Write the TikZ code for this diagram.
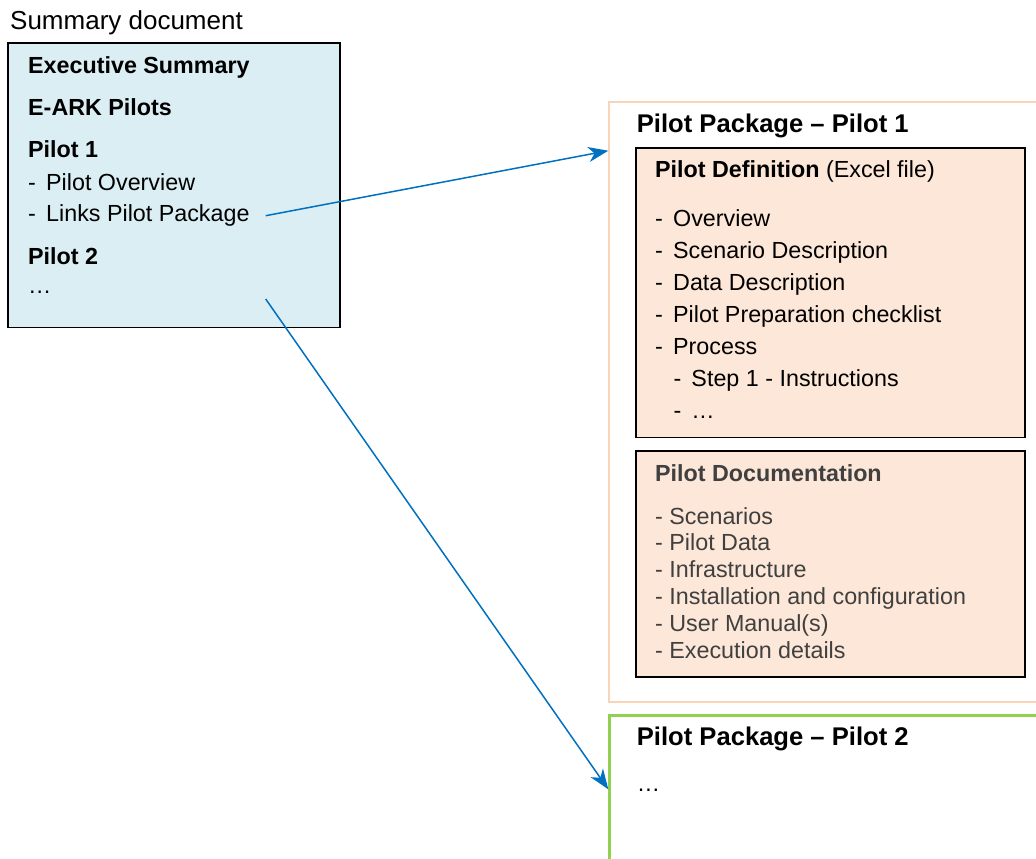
\documentclass[tikz,border=0pt]{standalone}
\usepackage{fontspec}
\setmainfont{Liberation Sans}
\usetikzlibrary{arrows.meta, positioning}
\definecolor{sumblue}{RGB}{218, 238, 243}
\definecolor{pkgorange}{RGB}{250, 212, 182}
\definecolor{defpeach}{RGB}{252, 231, 216}
\definecolor{pkggreen}{RGB}{146, 208, 80}
\definecolor{linkblue}{RGB}{0, 112, 192}
\definecolor{docgray}{RGB}{64, 64, 64}
\newcommand{\dashline}[1]{\makebox[18pt][l]{-}#1}

\tikzset{
  txt/.style={anchor=base west, inner sep=0pt, font=\fontsize{23.3}{28}\selectfont},
  boldtxt/.style={txt, font=\fontsize{23.3}{28}\selectfont\bfseries},
  headtxt/.style={anchor=base west, inner sep=0pt, font=\fontsize{25.6}{30}\selectfont\bfseries},
  box/.style={rectangle, anchor=north west, inner sep=0pt},
  sumbox/.style={box, draw=black, line width=1.5pt, fill=sumblue},
  defbox/.style={box, draw=black, line width=1.5pt, fill=defpeach},
  link/.style={linkblue, line width=1.5pt, -{Stealth[length=20pt, width=15pt, inset=6pt]}},
}

\begin{document}
\begin{tikzpicture}[x=1pt, y=-1pt]
  \useasboundingbox (0, 0) rectangle (1036, 859);

  % Summary document
  \node[txt, font=\fontsize{26}{30}\selectfont] (sumtitle) at (10, 30) {Summary document};
  \node[sumbox, minimum width=331.7, minimum height=284.4] (summary) at (7.3, 42.3) {};
  \node[boldtxt] (exec) at (28, 74) {Executive Summary};
  \node[boldtxt] (eark) at (28, 115) {E-ARK Pilots};
  \node[boldtxt] (pilot1) at (28, 157.3) {Pilot 1};
  \node[txt] (overview) at (28, 190.7) {\dashline{Pilot Overview}};
  \node[txt] (links) at (28, 221.7) {\dashline{Links Pilot Package}};
  \node[boldtxt] (pilot2) at (28, 264.3) {Pilot 2};
  \node[txt] (more) at (28, 293.3) {…};

  % Pilot package 1
  \node[box, draw=pkgorange, line width=2pt, minimum width=431.7, minimum height=599.7] (pkg1) at (608.3, 101) {};
  \node[headtxt] (pkg1title) at (636.7, 132.3) {Pilot Package – Pilot 1};

  \node[defbox, minimum width=389.3, minimum height=289.4] (definition) at (635, 147.3) {};
  \node[txt] (deftitle) at (655, 177.3) {\textbf{Pilot Definition} (Excel file)};
  \node[txt] (def1) at (655, 226) {\dashline{Overview}};
  \node[txt] (def2) at (655, 258.3) {\dashline{Scenario Description}};
  \node[txt] (def3) at (655, 290) {\dashline{Data Description}};
  \node[txt] (def4) at (655, 322.3) {\dashline{Pilot Preparation checklist}};
  \node[txt] (def5) at (655, 354.3) {\dashline{Process}};
  \node[txt] (def6) at (673.3, 386) {\dashline{Step 1 - Instructions}};
  \node[txt] (def7) at (673.3, 418.3) {\dashline{…}};

  \node[defbox, minimum width=389.3, minimum height=226] (documentation) at (635, 450) {};
  \node[boldtxt, docgray] (doctitle) at (655, 481) {Pilot Documentation};
  \foreach \y/\item [count=\i] in {524/Scenarios, 550.7/Pilot Data, 577.3/Infrastructure,
      604.3/Installation and configuration, 631.7/User Manual(s), 658.3/Execution details} {
    \node[txt, docgray] (doc\i) at (655, \y) {- \item};
  }

  % Pilot package 2
  \node[box, draw=pkggreen, line width=2.5pt, minimum width=431.7, minimum height=200] (pkg2) at (608.3, 714) {};
  \node[headtxt] (pkg2title) at (636.7, 745) {Pilot Package – Pilot 2};
  \node[txt] (pkg2more) at (636.7, 791.7) {…};

  % Links
  \coordinate (from1) at (265.7, 215.7);
  \coordinate (to1) at (608.3, 150.7);
  \coordinate (from2) at (265.7, 299);
  \coordinate (to2) at (608.3, 789.3);
  \draw[link] (from1) -- (to1);
  \draw[link] (from2) -- (to2);
\end{tikzpicture}
\end{document}
